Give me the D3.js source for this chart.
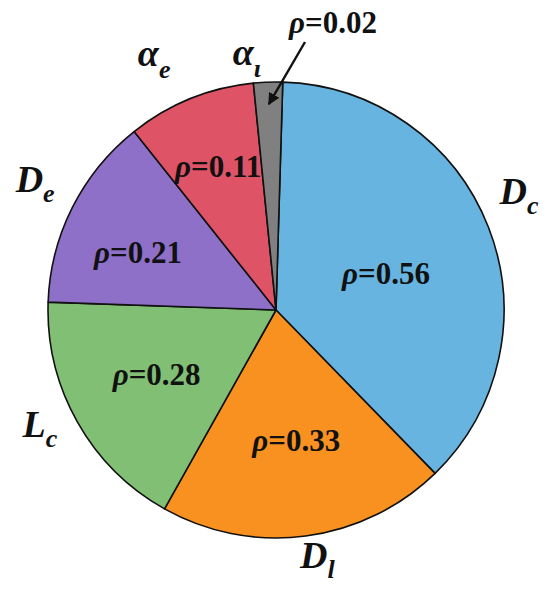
<!DOCTYPE html>
<html><head><meta charset="utf-8">
<script src="https://cdn.jsdelivr.net/npm/d3@7"></script>
<style>html,body{margin:0;padding:0;background:#fff;}svg{display:block;}</style>
</head><body>
<svg id="chart" width="550" height="589"></svg>
<script>
// Data
const categories = ["D", "D", "L", "D", "α", "α"];
const subscripts = ["c", "l", "c", "e", "e", "ι"];
const rhoValues = [0.56, 0.33, 0.28, 0.21, 0.11, 0.02];
// slice shares (percent of circle)
const sliceShares = [37.2, 20.4, 17.4, 13.75, 9.1, 2.05];
const colors = ["#66b4df", "#f8911f", "#80bf74", "#8e70c9", "#de5366", "#808080"];

const FONT = '"Liberation Serif", "Times New Roman", serif';
const cx = 276, cy = 310, R = 228;
const svg = d3.select("#chart");
const g = svg.append("g").attr("transform", `translate(${cx},${cy})`);

const startA = 1.7 * Math.PI / 180;
const pie = d3.pie().sort(null).value(d => d.share)
  .startAngle(startA).endAngle(startA + 2 * Math.PI);
const data = categories.map((c, i) => ({cat: c, sub: subscripts[i], rho: rhoValues[i], share: sliceShares[i], color: colors[i]}));
const arcs = pie(data);
const arc = d3.arc().innerRadius(0).outerRadius(R);

g.selectAll("path.slice").data(arcs).enter().append("path")
  .attr("class", "slice")
  .attr("d", arc)
  .attr("fill", d => d.data.color)
  .attr("stroke", "#111")
  .attr("stroke-width", 1.6)
  .attr("stroke-linejoin", "round");

function rhoText(sel, value) {
  sel.style("font-family", FONT).attr("text-anchor", "middle")
    .attr("font-weight", "bold").attr("font-size", 31).attr("fill", "#111");
  sel.append("tspan").attr("font-style", "italic").text("ρ");
  sel.append("tspan").text("=" + value.toFixed(2));
}

// inner labels (label radius + small nudges, styling only)
const innerR = [118, 132, 137, 150, 154];
const innerNudge = [[0, 7], [3, 0], [0, -2], [-4, 10], [0, 0]];
arcs.forEach((a, i) => {
  if (i >= 5) return;
  const la = d3.arc().innerRadius(innerR[i]).outerRadius(innerR[i]);
  const [x, y] = la.centroid(a);
  rhoText(g.append("text").attr("x", x + innerNudge[i][0]).attr("y", y + 10 + innerNudge[i][1]), a.data.rho);
});

// outer labels
const outerRad = 263;
const outerNudge = [[-2, -11], [7, -3], [-7, -2], [-6, 0], [-23, 0], [-20, 18]];
arcs.forEach((a, i) => {
  const la = d3.arc().innerRadius(outerRad).outerRadius(outerRad);
  const [x, y] = la.centroid(a);
  const t = g.append("text").attr("x", x + outerNudge[i][0]).attr("y", y + outerNudge[i][1])
    .style("font-family", FONT)
    .attr("text-anchor", "middle")
    .attr("font-weight", "bold").attr("font-style", "italic")
    .attr("font-size", 38).attr("fill", "#111");
  t.append("tspan").text(a.data.cat);
  t.append("tspan").attr("font-size", 26).attr("dy", a.data.cat === "α" ? 12 : 10).text(a.data.sub);
});

// small slice callout with arrow
const small = arcs[5];
const tip = d3.arc().innerRadius(206).outerRadius(206).centroid(small);
svg.append("defs").append("marker").attr("id", "ah")
  .attr("viewBox", "0 0 10 10").attr("refX", 9).attr("refY", 5)
  .attr("markerWidth", 5).attr("markerHeight", 5).attr("orient", "auto")
  .append("path").attr("d", "M0,0 L10,5 L0,10 Z").attr("fill", "#111");
g.append("line").attr("x1", 305 - cx).attr("y1", 42 - cy)
  .attr("x2", tip[0]).attr("y2", tip[1])
  .attr("stroke", "#111").attr("stroke-width", 2.4).attr("marker-end", "url(#ah)");
rhoText(g.append("text").attr("x", 333 - cx).attr("y", 33 - cy), small.data.rho);
</script>
</body></html>
